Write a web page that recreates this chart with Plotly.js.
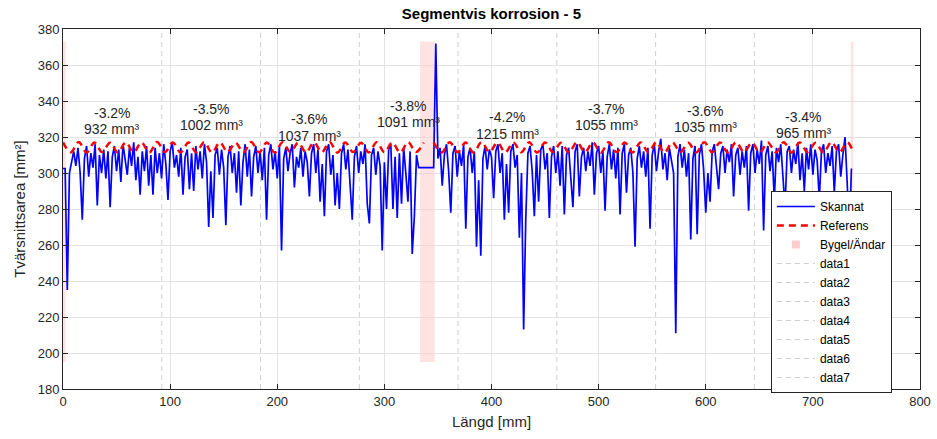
<!DOCTYPE html>
<html>
<head>
<meta charset="utf-8">
<script src="https://cdn.plot.ly/plotly-3.0.1.min.js"></script>
<style>html,body{margin:0;padding:0;background:#fff;}#chart{width:937px;height:439px;}</style>
</head>
<body>
<div id="chart"></div>
<script>
// ---- Data ----
const skanStep = 2; // mm between samples
const skanY = [
302.5,302.5,235,300,306,312,304,314,300,274,
308,315,298,311,303,316,282,310,300,313,
297,312,281,309,315,301,313,295,316,306,
299,314,304,317,296,309,288,312,301,315,
293,310,288,314,300,311,297,316,305,285,
312,317,303,310,298,314,288,309,313,291,
311,290,315,302,312,297,316,306,270,301,
275,310,314,299,313,303,271,309,315,300,
311,289,312,282,306,316,298,313,287,309,
315,300,312,296,314,274,310,316,302,312,
297,315,257,308,314,301,311,316,292,309,
303,314,298,312,306,287,311,316,300,313,
284,305,276,312,316,299,310,282,300,280,
311,316,302,313,296,274,309,315,300,312,
305,316,283,272,310,314,299,312,304,257,
306,280,313,316,280,309,275,311,283,314,
300,284,312,255,276,310,303,303,303,303,
303,303,303,303,372,308,314,293,310,316,
301,278,311,315,298,312,304,316,269,309,
314,300,312,259,296,254,308,315,302,313,
309,286,312,316,300,311,274,305,278,312,
316,303,310,264,300,213,275,311,315,301,
276,310,284,313,316,302,311,275,309,315,
300,312,293,315,277,310,314,299,281,312,
316,287,309,314,301,312,304,317,288,311,
315,300,312,279,309,316,302,313,297,314,
277,311,316,289,310,314,300,259,308,315,
303,312,298,314,269,310,316,301,312,319,
302,311,296,314,306,300,211,309,316,303,
313,298,311,263,308,315,266,310,316,302,
278,300,284,312,316,303,291,311,315,300,
313,306,316,287,310,314,299,312,303,315,
279,311,316,300,313,305,318,268,310,315,
301,312,285,314,306,316,298,281,312,315,
300,313,305,317,296,311,290,314,302,316,
299,313,307,285,312,316,300,311,304,315,
289,312,316,298,310,320,295,265,302.5
];

const refLeftX = [0,7.3,14.6,22,29.3,36.6,43.9,51.2,58.6,65.9,73.2,80.5,87.8,95.2,102.5,109.8,117.1,124.4,131.8,139.1,146.4,153.7,161,168.4,175.7,183,190.3,197.6,205,212.3,219.6,226.9,234.2,241.6,248.9,256.2,263.5,270.8,278.2,285.5,292.8,300.1,307.4,314.8,322.1,329.4,336.7];
const refLeftY = [317,311.5,317.2,311.3,317,311.6,316.8,311.4,317.1,311.5,317,311.3,317.2,311.6,316.9,311.4,317,311.5,317.1,311.3,317,311.6,316.8,311.4,317.2,311.5,317,311.3,317.1,311.6,316.9,311.4,317,311.5,317.2,311.3,317,311.6,316.8,311.4,317.1,311.5,317,311.3,317.2,311.6,316.9];
const refRightX = [346.1,353.5,361,368.4,375.8,383.2,390.7,398.1,405.5,412.9,420.4,427.8,435.2,442.6,450.1,457.5,464.9,472.3,479.8,487.2,494.6,502,509.5,516.9,524.3,531.7,539.2,546.6,554,561.4,568.9,576.3,583.7,591.1,598.6,606,613.4,620.8,628.3,635.7,643.1,650.5,658,665.4,672.8,680.2,687.7,695.1,702.5,709.9,717.4,724.8,732.2,737.6];
const refRightY = [317,311.4,317.1,311.5,317,311.3,317.2,311.6,316.9,311.4,317,311.5,317.1,311.3,317,311.6,316.8,311.4,317.2,311.5,317,311.3,317.1,311.6,316.9,311.4,317,311.5,317.2,311.3,317,311.6,316.8,311.4,317.1,311.5,317,311.3,317.2,311.6,316.9,311.4,317,311.5,317.1,311.3,317,311.6,316.8,311.4,317.2,311.5,317,311.8];

const bygelStart = [-2, 333.3, 735.4];
const bygelEnd   = [2.5, 347, 737.8];
const bygelLow = 195, bygelHigh = 373;

const segEdges = [0, 92.2, 184.4, 276.6, 368.8, 461, 553.2, 645.4, 737.6];
const pctLabels = ['-3.2%','-3.5%','-3.6%','-3.8%','-4.2%','-3.7%','-3.6%','-3.4%'];
const volLabels = ['932 mm³','1002 mm³','1037 mm³','1091 mm³','1215 mm³','1055 mm³','1035 mm³','965 mm³'];
const labelY = [333.5, 335.6, 330, 337.4, 331.1, 335.6, 334.6, 331.3];

const xRange = [0, 800], yRange = [180, 380];

// ---- Traces ----
const FONT = 'Liberation Sans, Arial, Helvetica, sans-serif';
const TXT = '#262626';
const traces = [];

bygelStart.forEach((s, i) => {
  const e = bygelEnd[i];
  traces.push({
    type: 'scatter', mode: 'none', fill: 'toself',
    x: [s, e, e, s, s], y: [bygelLow, bygelLow, bygelHigh, bygelHigh, bygelLow],
    fillcolor: 'rgba(255,200,200,0.5)', showlegend: false, hoverinfo: 'skip'
  });
});

const innerEdges = segEdges.slice(1, -1);
innerEdges.forEach((e, i) => {
  traces.push({
    type: 'scatter', mode: 'lines', name: 'data' + (i + 1),
    x: [e, e], y: yRange,
    line: {color: '#cfcfcf', width: 1, dash: '5px,4px'},
    legendrank: 10 + i
  });
});

traces.push({
  type: 'scatter', mode: 'lines', name: 'Skannat',
  x: skanY.map((_, i) => i * skanStep), y: skanY,
  line: {color: '#0000ff', width: 1.7}, legendrank: 1
});

traces.push({
  type: 'scatter', mode: 'lines', name: 'Referens',
  x: refLeftX.concat([341], refRightX),
  y: refLeftY.concat([null], refRightY),
  line: {color: '#ff0000', width: 2.5, dash: '7px,5px', shape: 'spline'},
  legendrank: 2
});

traces.push({
  type: 'scatter', mode: 'markers', name: 'Bygel/Ändar',
  x: [null], y: [null],
  marker: {symbol: 'square', size: 8, color: '#ffcccc'}, legendrank: 3
});

// ---- Annotations ----
const annotations = [];
pctLabels.forEach((p, i) => {
  const cx = (segEdges[i] + segEdges[i + 1]) / 2;
  annotations.push({x: cx, y: labelY[i], xref: 'x', yref: 'y', text: p, showarrow: false,
    font: {family: FONT, size: 14, color: TXT}, xanchor: 'center', yanchor: 'middle'});
  annotations.push({x: cx, y: labelY[i], xref: 'x', yref: 'y', text: volLabels[i], showarrow: false,
    font: {family: FONT, size: 14, color: TXT}, xanchor: 'center', yanchor: 'middle', yshift: -16.5});
});

const axisCommon = {
  showline: true, linecolor: TXT, linewidth: 1, mirror: 'allticks',
  ticks: 'inside', ticklen: 5, tickcolor: TXT,
  showgrid: true, gridcolor: '#e3e3e3', gridwidth: 1, zeroline: false,
  tickfont: {family: FONT, size: 13, color: TXT}
};

const layout = {
  width: 937, height: 439,
  margin: {l: 63, r: 17, t: 29, b: 50},
  paper_bgcolor: '#ffffff', plot_bgcolor: '#ffffff',
  font: {family: FONT, color: TXT},
  title: {text: '<b>Segmentvis korrosion - 5</b>', font: {family: FONT, size: 15, color: '#000'},
    x: 0.5245, xanchor: 'center', y: 1 - 14 / 439, yanchor: 'middle', yref: 'container'},
  xaxis: Object.assign({}, axisCommon, {range: xRange, dtick: 100, tick0: 0,
    title: {text: 'Längd [mm]', font: {family: FONT, size: 15, color: TXT}, standoff: 8}}),
  yaxis: Object.assign({}, axisCommon, {range: yRange, dtick: 20, tick0: 180,
    title: {text: 'Tvärsnittsarea [mm²]', font: {family: FONT, size: 15, color: TXT}, standoff: 8}}),
  legend: {x: 0.826, y: 0.55, xanchor: 'left', yanchor: 'top', bgcolor: '#ffffff',
    bordercolor: TXT, borderwidth: 1, font: {family: FONT, size: 12, color: '#000'},
    tracegroupgap: 0, traceorder: 'normal', itemwidth: 38},
  annotations: annotations,
  showlegend: true
};

Plotly.newPlot('chart', traces, layout, {displayModeBar: false, staticPlot: true});
</script>
</body>
</html>
